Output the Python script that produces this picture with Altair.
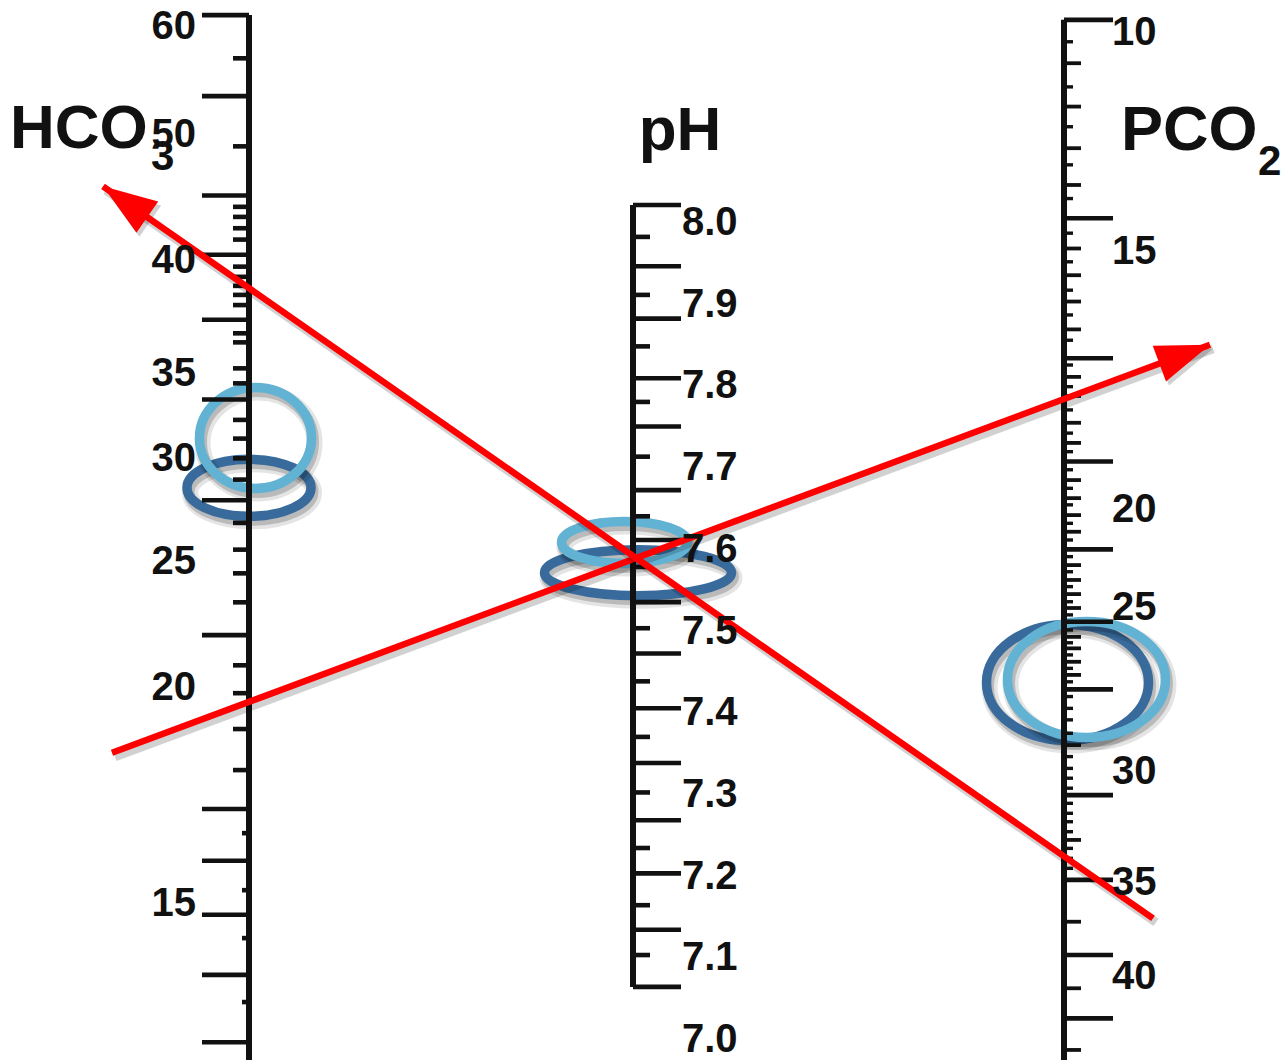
import altair as alt
import pandas as pd

FONT = "Liberation Sans"
INK = "#111111"
RED = "#ff0000"
LIGHT = "#62b2d4"
DARK = "#386a9b"

# ---------------- bicarbonate scale (HCO3-, mmol/L) ----------------
hco3_labels = [60, 50, 40, 35, 30, 25, 20, 15]
hco3_long = [61.1, 53.6, 45.2, 40.5, 37.4, 33.5, 28.0, 22.1, 17.2, 16.0, 14.75, 13.36, 11.8]
hco3_short = [57.1, 49.1, 44.3, 43.5, 42.6, 41.7, 39.75, 39.3, 38.9, 38.5, 38.05, 36.8,
              36.4, 35.25, 34.45, 32.3, 31.2, 30.04, 29.0, 26.9, 25.6, 24.55, 23.4,
              20.9, 19.88, 19.05, 18.1]
hco3_fine = [16.64, 15.32, 14.21, 12.73]
hco3_span = [61.1, 11.0]

# ---------------- pH scale ----------------
ph_labels = [8.0, 7.9, 7.8, 7.7, 7.6, 7.5, 7.4, 7.3, 7.2, 7.1, 7.0]
ph_long = [8.022, 7.947, 7.883, 7.810, 7.751, 7.673, 7.612, 7.536, 7.473, 7.406,
           7.339, 7.269, 7.204, 7.135, 7.065]
ph_short = [7.983, 7.912, 7.849, 7.781, 7.714, 7.641, 7.579, 7.504, 7.439, 7.371,
            7.303, 7.235, 7.165, 7.104]
ph_span = [8.022, 7.065]

# ---------------- carbon dioxide scale (PCO2, mmHg) ----------------
pco2_labels = [10, 15, 20, 25, 30, 35, 40]
pco2_long = [9.70, 14.23, 17.06, 19.06, 22.01, 25.42, 27.48, 31.04, 34.86, 38.83, 42.20]
pco2_mid = [10.69, 11.68, 12.63, 13.47, 14.92, 15.45, 15.96, 16.50, 17.42, 17.79, 18.31,
            18.70, 19.42, 19.77, 20.26, 21.11, 22.81, 23.57, 24.29, 25.0, 25.88, 26.23,
            26.64, 27.04, 29.18, 33.06, 37.06, 40.60, 43.88]
pco2_small = [10.20, 11.23, 12.14, 13.01, 13.78, 14.57, 15.19, 15.74, 16.22, 16.71, 17.19,
              17.61, 18.06, 18.51, 18.87, 19.22, 19.58, 19.90, 20.68, 21.53, 22.38, 23.15,
              23.91, 24.68, 25.21, 25.67, 26.06, 26.43, 26.84, 27.25, 27.70, 28.06, 28.41,
              28.82, 29.53, 29.89, 30.28, 30.73, 31.41, 31.86, 32.24, 32.69, 33.44, 33.89,
              34.34]
pco2_span = [9.70, 44.5]

# circled readings: [light ring, dark ring]
hco3_rings = [31.24, 28.6]
ph_rings = [7.609, 7.572]
pco2_rings = [27.18, 27.27]

# straight-edge readings joining HCO3 and PCO2 through the pH scale
arrow_hco3 = [19.68, 38.8]
arrow_pco2 = [17.85, 33.8]

# axis titles
title_text = ["HCO", "pH", "PCO"]
title_sub = ["3", "2"]

# ---------------- scales (nomogram calibration) ----------------
hco3_scale = alt.Scale(domain=[15, 20, 25, 30, 35, 40, 50, 60],
                       range=[904, 688, 562, 459, 374, 261, 135, 27],
                       nice=False, zero=False)
ph_scale = alt.Scale(domain=[7.0, 8.0], range=[1040, 223], nice=False, zero=False)
pco2_scale = alt.Scale(domain=[10, 15, 20, 25, 30, 35, 40],
                       range=[33, 252, 510, 608, 772, 883, 977],
                       nice=False, zero=False)

X_HCO3, X_PH, X_PCO2 = 249, 633, 1064
GAP = X_PCO2 - X_HCO3


def spine(span, scale, x, name=None):
    ch = alt.Chart(pd.DataFrame({"a": [span[0]], "b": [span[1]]})).mark_rule(
        color=INK, strokeWidth=6, strokeCap="butt"
    ).encode(x=alt.value(x), y=alt.Y("a:Q", scale=scale, axis=None), y2="b:Q")
    if name:
        ch = ch.properties(name=name)
    return ch


def ticks(values, scale, x0, x1, width=4.6):
    return alt.Chart(pd.DataFrame({"v": values})).mark_rule(
        color=INK, strokeWidth=width, strokeCap="butt"
    ).encode(y=alt.Y("v:Q", scale=scale, axis=None), x=alt.value(x0), x2=alt.value(x1))


def labels(values, scale, x, align, fmt):
    return alt.Chart(pd.DataFrame({"v": values})).mark_text(
        font=FONT, fontSize=40, fontWeight="bold", color=INK, align=align, baseline="middle"
    ).encode(y=alt.Y("v:Q", scale=scale, axis=None), x=alt.value(x),
             text=alt.Text("v:Q", format=fmt))


def ellipse_path(rx, ry):
    k = ry / rx
    return f"M -1 0 A 1 {k:.4f} 0 0 1 1 0 A 1 {k:.4f} 0 0 1 -1 0 Z"


def ring(value, scale, x, rx, ry, color):
    base = alt.Chart(pd.DataFrame({"v": [value]}))
    shape = ellipse_path(rx, ry)
    size = (2 * rx) ** 2
    enc = dict(y=alt.Y("v:Q", scale=scale, axis=None), x=alt.value(x))
    shadow_wide = base.mark_point(shape=shape, size=size, filled=False, stroke="#000000",
                                  strokeWidth=16, opacity=0.10, xOffset=3, yOffset=5).encode(**enc)
    shadow = base.mark_point(shape=shape, size=size, filled=False, stroke="#000000",
                             strokeWidth=11, opacity=0.18, xOffset=2, yOffset=4).encode(**enc)
    main = base.mark_point(shape=shape, size=size, filled=False, color=color,
                           strokeWidth=9.5, opacity=1).encode(**enc)
    return [shadow_wide, shadow, main]


def y_at(a, b, x):
    ya = f"scale('hco3_y', {a})"
    yb = f"scale('pco2_y', {b})"
    t = (x - X_HCO3) / GAP
    return f"({ya} + ({yb} - {ya}) * {t:.6f})"


HEAD_LEN, HEAD_W = 54, 38
HEAD_PATH = f"M 1 0 L -1 {-HEAD_W / HEAD_LEN:.3f} L -1 {HEAD_W / HEAD_LEN:.3f} Z"


def arrow(a, b, x_tail, x_tip):
    ya = f"scale('hco3_y', {a})"
    yb = f"scale('pco2_y', {b})"
    if x_tip > x_tail:
        th = f"atan2({yb} - {ya}, {GAP})"
    else:
        th = f"atan2({ya} - {yb}, {-GAP})"
    half = HEAD_LEN / 2
    one = pd.DataFrame({"k": [0]})
    out = []
    for off, col, op, sw in [((3, 4), "#000000", 0.18, 9), ((0, 0), RED, 1.0, 6.5)]:
        line = alt.Chart(one).mark_rule(
            color=col, opacity=op, strokeWidth=sw, strokeCap="butt",
            xOffset=off[0], x2Offset=off[0], yOffset=off[1], y2Offset=off[1]
        ).encode(
            x=alt.value(x_tail), x2=alt.value(x_tip),
            y=alt.YValue(alt.ExprRef(y_at(a, b, x_tail))),
            y2=alt.Y2Value(alt.ExprRef(y_at(a, b, x_tip))),
        )
        head = alt.Chart(one).mark_point(
            shape=HEAD_PATH, size=HEAD_LEN ** 2, filled=True, color=col, opacity=op,
            strokeWidth=0, xOffset=off[0], yOffset=off[1],
            angle=alt.ExprRef(f"{th} * 180 / PI"),
        ).encode(
            x=alt.XValue(alt.ExprRef(f"{x_tip} - {half} * cos({th})")),
            y=alt.YValue(alt.ExprRef(f"{y_at(a, b, x_tip)} - {half} * sin({th})")),
        )
        out += [line, head]
    return out


def title(text, x, y, size, align="left"):
    return alt.Chart(pd.DataFrame({"t": [text]})).mark_text(
        font=FONT, fontSize=size, fontWeight="bold", color=INK, align=align,
        baseline="alphabetic"
    ).encode(text="t:N", x=alt.value(x), y=alt.value(y))


layers = []
# circled readings (dark ring first, light ring on top)
layers += ring(hco3_rings[1], hco3_scale, 249, 62, 28.5, DARK)
layers += ring(hco3_rings[0], hco3_scale, 255.5, 56, 50.5, LIGHT)
layers += ring(ph_rings[1], ph_scale, 638, 93.5, 23, DARK)
layers += ring(ph_rings[0], ph_scale, 624.5, 63, 21, LIGHT)
layers += ring(pco2_rings[1], pco2_scale, 1067.5, 81, 58, DARK)
layers += ring(pco2_rings[0], pco2_scale, 1086.5, 79, 58, LIGHT)

# scale spines and graduations
layers += [
    spine(hco3_span, hco3_scale, X_HCO3, name="hco3"),
    ticks(hco3_long, hco3_scale, 202, X_HCO3),
    ticks(hco3_short, hco3_scale, 233, X_HCO3),
    ticks(hco3_fine, hco3_scale, 242, X_HCO3),
    spine(ph_span, ph_scale, X_PH),
    ticks(ph_long, ph_scale, X_PH, 681),
    ticks(ph_short, ph_scale, X_PH, 650),
    spine(pco2_span, pco2_scale, X_PCO2, name="pco2"),
    ticks(pco2_long, pco2_scale, X_PCO2, 1113),
    ticks(pco2_mid, pco2_scale, X_PCO2, 1081, 3.8),
    ticks(pco2_small, pco2_scale, X_PCO2, 1073, 3.4),
]

# straight-edge arrows
layers += arrow(arrow_hco3[0], arrow_pco2[0], 112, 1210)
layers += arrow(arrow_hco3[1], arrow_pco2[1], 1153, 103)

# scale numbers and titles
layers += [
    labels(hco3_labels, hco3_scale, 196, "right", "d"),
    labels(ph_labels, ph_scale, 682, "left", ".1f"),
    labels(pco2_labels, pco2_scale, 1112, "left", "d"),
    title(title_text[0], 10, 148, 62),
    title(title_sub[0], 151, 170, 42),
    title(title_text[1], 680, 150, 62, align="center"),
    title(title_text[2], 1121, 150, 63),
    title(title_sub[1], 1258, 175, 42),
]

chart = alt.layer(*layers).resolve_scale(y="independent").properties(
    width=1287, height=1060, padding=0,
    autosize=alt.AutoSizeParams(type="none"),
    background="white",
).configure_view(stroke=None)

chart.save("out.html", embed_options={"renderer": "svg", "actions": False})
